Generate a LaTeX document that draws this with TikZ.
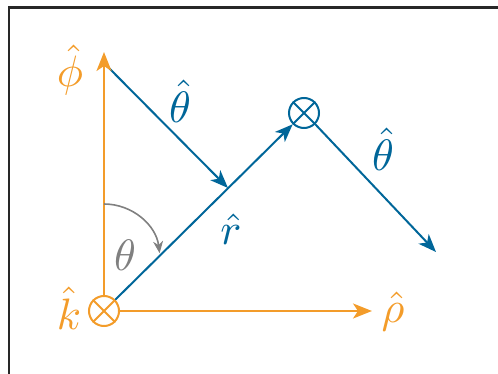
\documentclass[tikz,border=0pt]{standalone}
\usetikzlibrary{arrows.meta}
\definecolor{myorange}{RGB}{243,156,42}
\definecolor{myblue}{RGB}{0,102,153}
\definecolor{mygray}{RGB}{128,128,128}
\definecolor{frame}{RGB}{40,40,40}
\begin{document}
\begin{tikzpicture}[x=1pt,y=-1pt,
  oarrow/.style={draw=myorange,line width=2.2pt,-{Stealth[length=19pt,width=15pt,inset=5pt]}},
  barrow/.style={draw=myblue,line width=2pt,-{Stealth[length=18pt,width=14pt,inset=5pt]}},
  garrow/.style={draw=mygray,line width=1.6pt,-{Stealth[length=12pt,width=10pt]}},
  crossc/.style={circle,draw,line width=2pt,minimum size=30pt,inner sep=0pt},
  lbl/.style={inner sep=0pt,font=\normalsize,scale=4.4}]
\useasboundingbox (0,0) rectangle (498,374);
\draw[frame,line width=2.2pt] (9,380) -- (9,7.5) -- (510,7.5);
% nodes
\node[crossc,draw=myorange] (k) at (104,311) {};
\draw[myorange,line width=2pt] (k.north west) -- (k.south east) (k.north east) -- (k.south west);
\node[crossc,draw=myblue] (b) at (304,113) {};
\draw[myblue,line width=2pt] (b.north west) -- (b.south east) (b.north east) -- (b.south west);
\coordinate (phitip) at (104,52);
\coordinate (rhotip) at (372,311);
\coordinate (t1s) at (104,63);
\coordinate (t1e) at (228,188);
\coordinate (t2e) at (436,252);
\coordinate (arcs) at (104,204);
% arrows
\draw[barrow] (t1s) -- (t1e);
\draw[oarrow] (k.north) -- (phitip);
\draw[oarrow] (k.east) -- (rhotip);
\draw[barrow] (k.north east) -- (b.south west);
\draw[barrow] (b.south east) -- (t2e);
\draw[garrow] (arcs) arc[start angle=-90,end angle=-7,radius=56];
% labels
\node[lbl,text=myorange] (lphi) at (70,70) {$\hat\phi$};
\node[lbl,text=myorange] (lrho) at (393,311) {$\hat\rho$};
\node[lbl,text=myorange] (lk) at (69,308) {$\hat k$};
\node[lbl,text=myblue] (lt1) at (180,101) {$\hat\theta$};
\node[lbl,text=myblue] (lt2) at (383,149) {$\hat\theta$};
\node[lbl,text=myblue] (lr) at (231,229) {$\hat r$};
\node[lbl,text=mygray] (lth) at (125,255) {$\theta$};
\end{tikzpicture}
\end{document}
